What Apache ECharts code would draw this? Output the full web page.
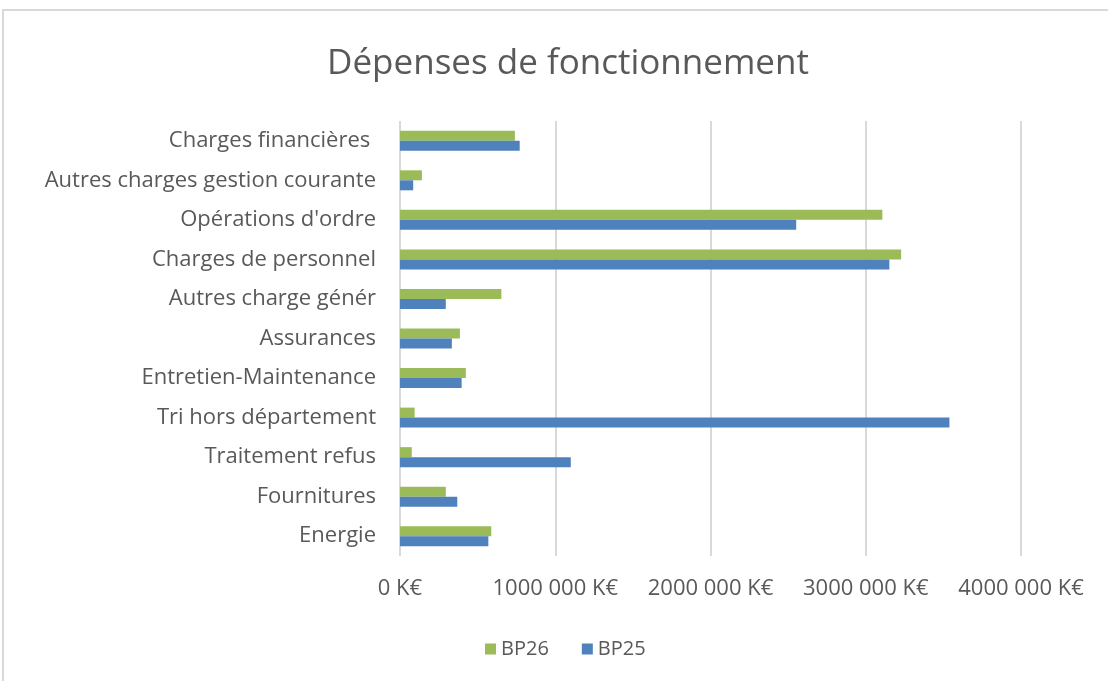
<!DOCTYPE html>
<html>
<head>
<meta charset="utf-8">
<script src="https://cdn.jsdelivr.net/npm/echarts@6/dist/echarts.min.js"></script>
<style>
  html, body { margin: 0; padding: 0; background: #fff; }
  #chart { width: 1108px; height: 681px; }
</style>
</head>
<body>
<div id="chart"></div>
<script>
// categories from bottom to top (ECharts category y axis goes upward)
var categories = [
  "Energie",
  "Fournitures",
  "Traitement refus",
  "Tri hors département",
  "Entretien-Maintenance",
  "Assurances",
  "Autres charge génér",
  "Charges de personnel",
  "Opérations d'ordre",
  "Autres charges gestion courante",
  "Charges financières "
];
var bp25 = [569000, 369000, 1100000, 3539000, 397000, 334000, 295000, 3152000, 2552000, 85000, 771000];
var bp26 = [588000, 295000, 76000, 94000, 424000, 386000, 653000, 3228000, 3107000, 141000, 740000];
var tickLabels = ["0 K€", "1000 000 K€", "2000 000 K€", "3000 000 K€", "4000 000 K€"];

var font = "'Open Sans', sans-serif";
var chart = echarts.init(document.getElementById("chart"));
var option = {
  animation: false,
  title: {
    text: "Dépenses de fonctionnement",
    left: 563,
    textAlign: "center",
    top: 42,
    textStyle: { fontFamily: font, fontSize: 35, fontWeight: "normal", color: "#595959" }
  },
  graphic: [
    {
      type: "rect",
      shape: { x: 3, y: 10, width: 1110, height: 680 },
      style: { fill: "none", stroke: "#d9d9d9", lineWidth: 2 },
      silent: true
    }
  ],
  legend: {
    data: ["BP26", "BP25"],
    top: 634,
    left: 480,
    itemWidth: 11,
    itemHeight: 11,
    itemGap: 33,
    icon: "rect",
    textStyle: { fontFamily: font, fontSize: 20, color: "#595959" }
  },
  grid: { left: 400, top: 121, width: 621, height: 435, containLabel: false },
  xAxis: {
    type: "value",
    min: 0,
    max: 4000000,
    interval: 1000000,
    axisLine: { show: false },
    axisTick: { show: false },
    splitLine: { lineStyle: { color: "#d9d9d9", width: 2 } },
    axisLabel: {
      margin: 22,
      fontFamily: font,
      fontSize: 22,
      color: "#595959",
      formatter: function (v) { return tickLabels[Math.round(v / 1000000)]; }
    }
  },
  yAxis: {
    type: "category",
    data: categories,
    axisLine: { show: false },
    axisTick: { show: false },
    axisLabel: { margin: 24, fontFamily: font, fontSize: 22, color: "#595959" }
  },
  series: [
    {
      name: "BP26",
      type: "bar",
      data: bp26,
      barWidth: 10,
      barGap: "0%",
      itemStyle: { color: "#9bbb59" }
    },
    {
      name: "BP25",
      type: "bar",
      data: bp25,
      barWidth: 10,
      barGap: "0%",
      itemStyle: { color: "#4f81bd" }
    }
  ]
};
chart.setOption(option);
</script>
</body>
</html>
